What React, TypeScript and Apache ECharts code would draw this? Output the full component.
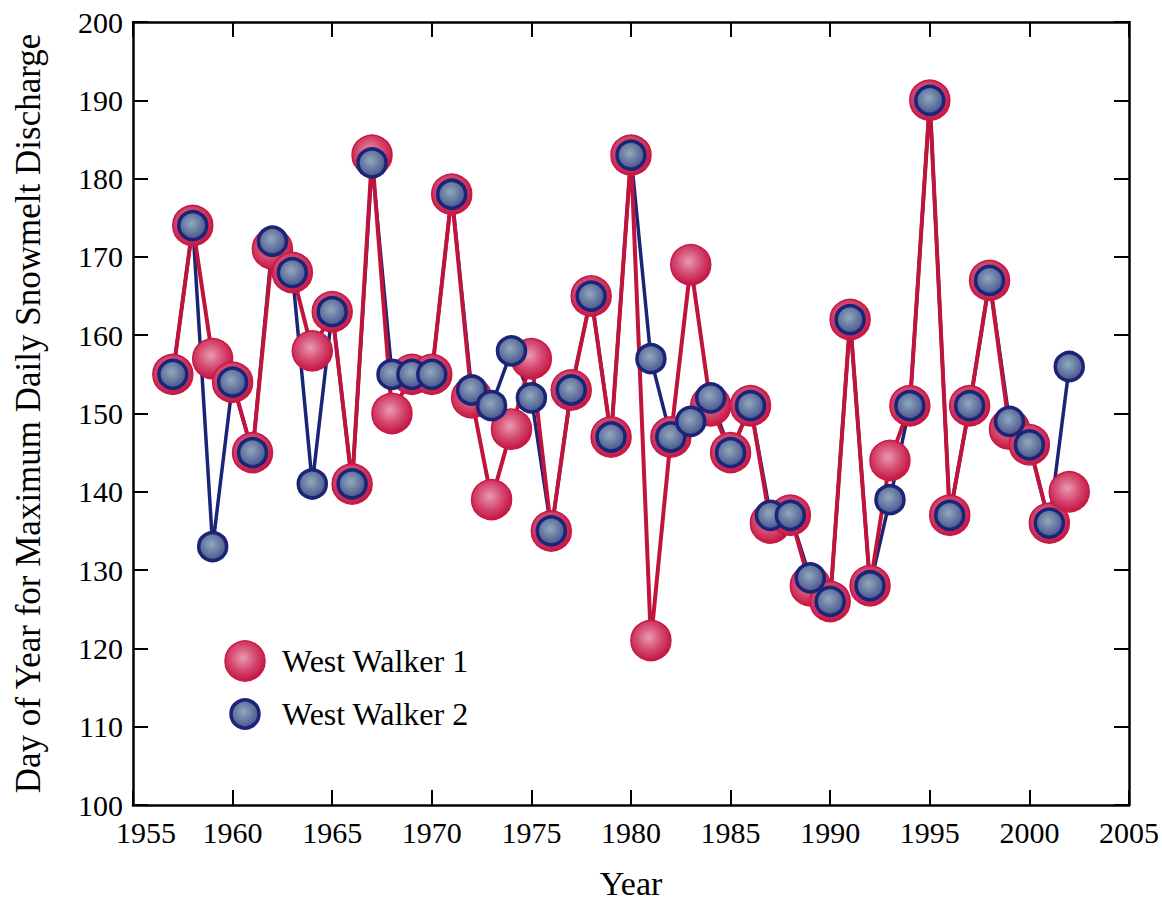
import React, { useEffect, useRef } from "react";
import * as echarts from "echarts";

const years = [1957, 1958, 1959, 1960, 1961, 1962, 1963, 1964, 1965, 1966, 1967, 1968, 1969, 1970, 1971, 1972, 1973, 1974, 1975, 1976, 1977, 1978, 1979, 1980, 1981, 1982, 1983, 1984, 1985, 1986, 1987, 1988, 1989, 1990, 1991, 1992, 1993, 1994, 1995, 1996, 1997, 1998, 1999, 2000, 2001, 2002];
const westWalker1 = [155, 174, 157, 154, 145, 171, 168, 158, 163, 141, 183, 150, 155, 155, 178, 152, 139, 148, 157, 135, 153, 165, 147, 183, 121, 147, 169, 151, 145, 151, 136, 137, 128, 126, 162, 128, 144, 151, 190, 137, 151, 167, 148, 146, 136, 140];
const westWalker2 = [155, 174, 133, 154, 145, 172, 168, 141, 163, 141, 182, 155, 155, 155, 178, 153, 151, 158, 152, 135, 153, 165, 147, 183, 157, 147, 149, 152, 145, 151, 137, 137, 129, 126, 162, 128, 139, 151, 190, 137, 151, 167, 149, 146, 136, 156];
const seriesNames = ["West Walker 1", "West Walker 2"];
const xTickMin = 1955, xTickMax = 2005, xTickStep = 5;
const yTickMin = 100, yTickMax = 200, yTickStep = 10;

const FONT = "'Liberation Serif', 'Times New Roman', serif";

const redFill = () =>
  new echarts.graphic.RadialGradient(0.45, 0.42, 0.6, [
    { offset: 0, color: "#ea9ab2" },
    { offset: 0.55, color: "#d4476e" },
    { offset: 1, color: "#c3123f" },
  ]);
const blueFill = () =>
  new echarts.graphic.RadialGradient(0.45, 0.42, 0.6, [
    { offset: 0, color: "#92a9bd" },
    { offset: 0.6, color: "#63749f" },
    { offset: 1, color: "#45508c" },
  ]);

export default function App() {
  const ref = useRef<HTMLDivElement>(null);
  useEffect(() => {
    if (!ref.current) return;
    const chart = echarts.init(ref.current, null, { renderer: "svg" });
    const d1 = years.map((y, i) => [y, westWalker1[i]]);
    const d2 = years.map((y, i) => [y, westWalker2[i]]);
    const axisCommon = {
      axisLine: { show: true, lineStyle: { color: "#000", width: 2.5 } },
      axisTick: { show: true, inside: true, length: 15, lineStyle: { color: "#000", width: 2 } },
      splitLine: { show: false },
    };
    chart.setOption({
      animation: false,
      backgroundColor: "#fff",
      grid: { left: 133, right: 30, top: 22, bottom: 97 },
      xAxis: [
        {
          type: "value",
          min: xTickMin,
          max: xTickMax,
          interval: xTickStep,
          position: "bottom",
          ...axisCommon,
          axisLabel: {
            color: "#000",
            fontFamily: FONT,
            fontSize: 30,
            margin: 12,
            formatter: (v: number) => (v === xTickMin ? `{first|${v}}` : String(v)),
            rich: { first: { color: "#000", fontFamily: FONT, fontSize: 30, padding: [0, 0, 0, 26] } },
          },
          name: "Year",
          nameLocation: "middle",
          nameGap: 61,
          nameTextStyle: { color: "#000", fontFamily: FONT, fontSize: 34 },
        },
        {
          type: "value",
          min: xTickMin,
          max: xTickMax,
          interval: xTickStep,
          position: "top",
          ...axisCommon,
          axisLabel: { show: false },
        },
      ],
      yAxis: [
        {
          type: "value",
          min: yTickMin,
          max: yTickMax,
          interval: yTickStep,
          position: "left",
          ...axisCommon,
          axisLabel: { color: "#000", fontFamily: FONT, fontSize: 30, margin: 10 },
          name: "Day of Year for Maximum Daily Snowmelt Discharge",
          nameLocation: "middle",
          nameGap: 87,
          nameTextStyle: { color: "#000", fontFamily: FONT, fontSize: 35 },
        },
        {
          type: "value",
          min: yTickMin,
          max: yTickMax,
          interval: yTickStep,
          position: "right",
          ...axisCommon,
          axisLabel: { show: false },
        },
      ],
      series: [
        {
          type: "line",
          data: d2,
          z: 2,
          showSymbol: false,
          lineStyle: { color: "#1b2577", width: 3.5 },
          silent: true,
        },
        {
          type: "line",
          data: d1,
          z: 3,
          showSymbol: false,
          lineStyle: { color: "#c0143c", width: 4 },
          silent: true,
        },
        {
          type: "scatter",
          name: seriesNames[0],
          data: d1,
          z: 4,
          symbol: "circle",
          symbolSize: 40,
          itemStyle: { color: redFill(), borderColor: "#c81a46", borderWidth: 1.5, opacity: 1 },
        },
        {
          type: "scatter",
          name: seriesNames[1],
          data: d2,
          z: 5,
          symbol: "circle",
          symbolSize: 28,
          itemStyle: { color: blueFill(), borderColor: "#1b2477", borderWidth: 3.5, opacity: 1 },
        },
      ],
      graphic: [
        { type: "circle", shape: { cx: 245, cy: 661, r: 20 }, style: { fill: redFill(), stroke: "#c81a46", lineWidth: 1.5 }, z: 10 },
        { type: "text", x: 282, y: 661, style: { text: seriesNames[0], fill: "#000", font: `32px ${FONT}`, textVerticalAlign: "middle", verticalAlign: "middle" }, z: 10 },
        { type: "circle", shape: { cx: 245, cy: 714, r: 14 }, style: { fill: blueFill(), stroke: "#1b2477", lineWidth: 3.5 }, z: 10 },
        { type: "text", x: 282, y: 714, style: { text: seriesNames[1], fill: "#000", font: `32px ${FONT}`, textVerticalAlign: "middle", verticalAlign: "middle" }, z: 10 },
      ],
    });
    return () => chart.dispose();
  }, []);
  return <div ref={ref} style={{ width: 1162, height: 905, position: "absolute", left: 0, top: 0 }} />;
}
